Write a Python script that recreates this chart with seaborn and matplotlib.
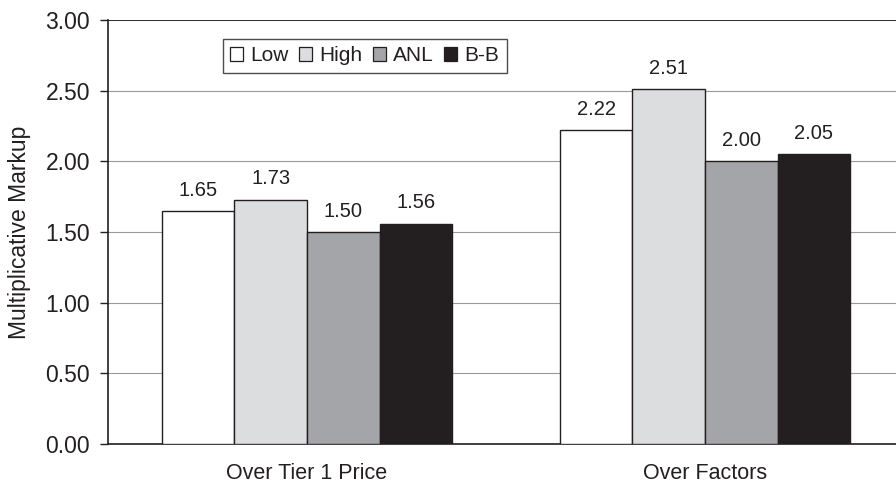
import pandas as pd
import seaborn as sns
import matplotlib.pyplot as plt
from matplotlib.patches import Patch

categories = ['Over Tier 1 Price', 'Over Factors']
series = ['Low', 'High', 'ANL', 'B-B']
low = [1.65, 2.22]
high = [1.73, 2.51]
anl = [1.50, 2.00]
bb = [1.56, 2.05]
colors = ['#ffffff', '#dcdddf', '#a4a5a8', '#231f20']

rows = []
for name, vals in zip(series, [low, high, anl, bb]):
    for cat, v in zip(categories, vals):
        rows.append({'cat': cat, 'series': name, 'value': v})
df = pd.DataFrame(rows)

sns.set_style('white')
plt.rcParams['font.family'] = ['Liberation Sans', 'DejaVu Sans']
txt = '#231f20'
fs_axis = 16.5

fig = plt.figure(figsize=(8.96, 4.86), dpi=100)
ax = fig.add_axes([0.1205, 0.0864, 0.8795, 0.8724])

sns.barplot(data=df, x='cat', y='value', hue='series', order=categories,
            hue_order=series, palette=colors, width=0.73, edgecolor=txt,
            linewidth=1.0, saturation=1, ax=ax, legend=False, zorder=3)

for c in ax.containers:
    ax.bar_label(c, fmt='%.2f', padding=8, fontsize=14.5, color=txt)

ax.set_xlim(-0.5, 1.48)
ax.set_ylim(0, 3.0)
ax.set_yticks([0, 0.5, 1.0, 1.5, 2.0, 2.5, 3.0])
ax.set_yticklabels([f'{t:.2f}' for t in ax.get_yticks()], fontsize=fs_axis, color=txt)
ax.yaxis.grid(True, color='#9a9a9a', linewidth=0.8, zorder=0)
ax.axhline(3.0, color=txt, linewidth=1.2, zorder=4)
ax.set_xticks([0, 1])
ax.set_xticklabels(categories, fontsize=15.5, color=txt)
ax.set_xticks([-0.5, 0.5], minor=True)
ax.tick_params(axis='x', which='major', length=0, pad=14)
ax.tick_params(axis='x', which='minor', length=6, width=1, color=txt, direction='out')
ax.tick_params(axis='y', length=6, width=1, color=txt, direction='out', left=True, pad=7)
ax.set_xlabel('')
ax.set_ylabel('Multiplicative Markup', fontsize=fs_axis, color=txt, labelpad=10)

for s in ['top', 'right']:
    ax.spines[s].set_visible(False)
for s in ['left', 'bottom']:
    ax.spines[s].set_color(txt)
    ax.spines[s].set_linewidth(1.2)

handles = [Patch(facecolor=c, edgecolor=txt, linewidth=0.9, label=s)
           for s, c in zip(series, colors)]
leg = ax.legend(handles=handles, ncol=4, loc='upper left', bbox_to_anchor=(0.146, 0.955),
                frameon=True, fancybox=False, edgecolor=txt, fontsize=15,
                handlelength=0.62, handleheight=0.62, handletextpad=0.35, columnspacing=0.5,
                borderpad=0.35, borderaxespad=0)
leg.get_frame().set_linewidth(1.0)
for t in leg.get_texts():
    t.set_color(txt)
leg.set_zorder(5)

plt.savefig('out.png', dpi=100)
